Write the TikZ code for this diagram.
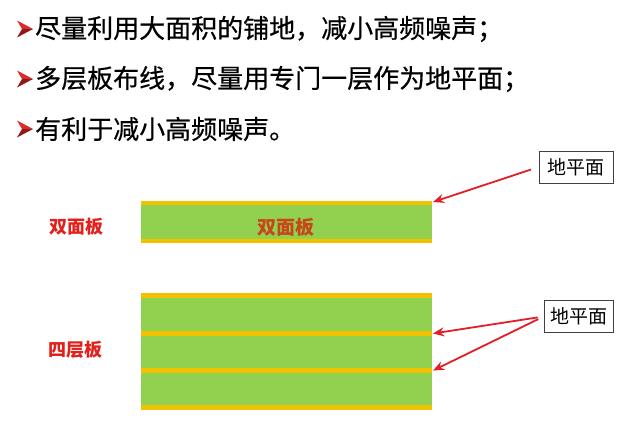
\documentclass[tikz,border=0pt]{standalone}
\usepackage{fontspec}
\newfontfamily\cjk{Noto Sans CJK SC}
\newfontfamily\cjkm[FakeBold=0.5]{Noto Sans CJK SC}
\usetikzlibrary{arrows.meta}
\definecolor{boardgreen}{HTML}{92D050}
\definecolor{copperlayer}{HTML}{F2C200}
\definecolor{lblred}{HTML}{E3211C}
\definecolor{inred}{HTML}{C8461A}
\definecolor{arrred}{HTML}{E31E24}
\definecolor{bulA}{HTML}{E02A2A}
\definecolor{bulB}{HTML}{8E1A1A}
\tikzset{
  barrow/.pic={
    \fill[bulA] (0,-8.5) -- (16,0) -- (5,0) -- cycle;
    \fill[bulB] (5,0) -- (16,0) -- (0,8.5) -- cycle;
  },
  bullettext/.style={anchor=west, inner sep=0pt, font=\cjkm\fontsize{26}{26}\selectfont},
  sidelabel/.style={inner sep=0pt, font=\cjk\bfseries\fontsize{18}{18}\selectfont, text=lblred},
  inlabel/.style={inner sep=0pt, font=\cjk\bfseries\fontsize{19}{19}\selectfont, text=inred},
  callout/.style={draw=black!75, line width=0.7pt, fill=white, inner sep=0pt,
    minimum height=32pt, font=\cjk\fontsize{19}{19}\selectfont},
  cu/.style={fill=copperlayer, draw=none},
  gndarrow/.style={draw=arrred, line width=1.8pt, -{Stealth[length=11pt,width=9pt]}}
}
\begin{document}
\begin{tikzpicture}[x=1pt,y=-1pt]
\useasboundingbox[fill=white] (0,0) rectangle (640,421);

% bullets
\pic at (17,29) {barrow};
\pic at (17,79) {barrow};
\pic at (17,129) {barrow};
\node[bullettext] (l1) at (35,29) {尽量利用大面积的铺地，减小高频噪声；};
\node[bullettext] (l2) at (35,79) {多层板布线，尽量用专门一层作为地平面；};
\node[bullettext] (l3) at (35,129) {有利于减小高频噪声。};

% two-sided board
\fill[boardgreen] (141,201) rectangle (432,243);
\fill[cu] (141,201) rectangle (432,205);
\fill[cu] (141,239) rectangle (432,243);
\coordinate (t1) at (433,202);
\node[inlabel] (in1) at (286,227) {双面板};
\node[sidelabel] (s1) at (76,227) {双面板};

% four-layer board
\fill[boardgreen] (141,293) rectangle (432,410);
\fill[cu] (141,293) rectangle (432,298);
\fill[cu] (141,331) rectangle (432,336);
\fill[cu] (141,368) rectangle (432,373);
\fill[cu] (141,405) rectangle (432,410);
\coordinate (t2) at (433,333.5);
\coordinate (t3) at (433,370.5);
\node[sidelabel] (s2) at (75,350) {四层板};

% callouts
\node[callout, minimum width=74pt] (c1) at (576,167) {地平面};
\node[callout, minimum width=69pt] (c2) at (578.5,316.5) {地平面};

\draw[gndarrow, shorten <=8pt] (c1.west) -- (t1);
\draw[gndarrow, shorten <=6pt] (c2.west) -- (t2);
\draw[gndarrow, shorten <=6pt] (c2.west) -- (t3);
\end{tikzpicture}
\end{document}
